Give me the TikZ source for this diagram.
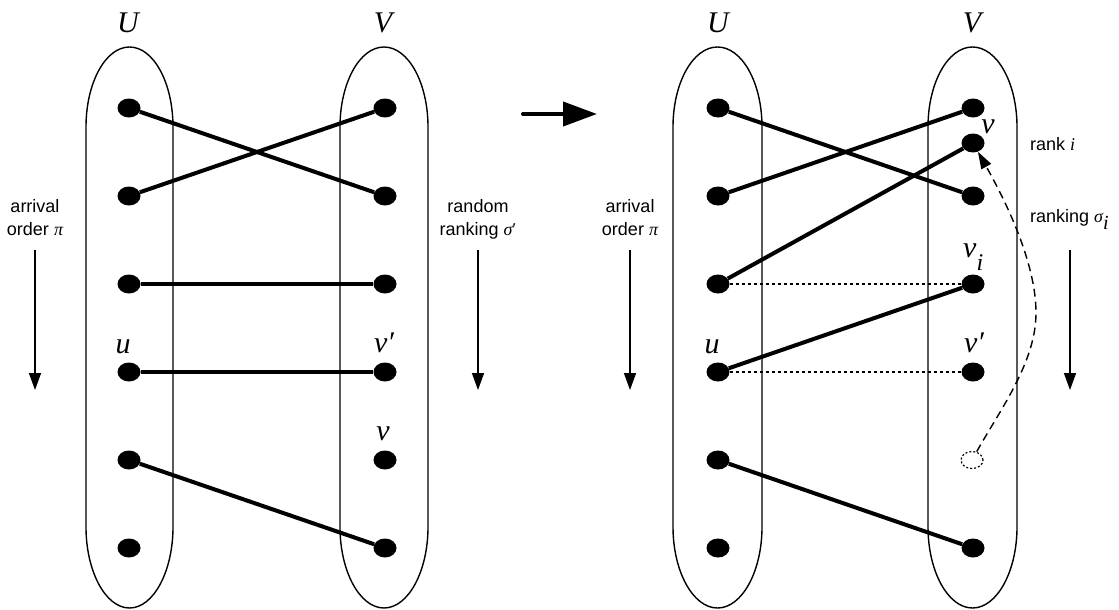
\documentclass[tikz,border=0pt]{standalone}
\usepackage{fontspec}
\setmainfont{Liberation Sans}
\newfontfamily\tms{Liberation Serif}
\usetikzlibrary{arrows.meta,shapes.geometric}
\newcommand\stadium[2]{%
  \draw[setline] (#1,127) .. controls (#1,82.8) and ({#1+0.224*(#2-#1)},47) .. ({(#1+#2)/2},47)
     .. controls ({#2-0.224*(#2-#1)},47) and (#2,82.8) .. (#2,127)
     -- (#2,527) .. controls (#2,571.2) and ({#2-0.224*(#2-#1)},608) .. ({(#1+#2)/2},608)
     .. controls ({#1+0.224*(#2-#1)},608) and (#1,571.2) .. (#1,527) -- cycle;}
\begin{document}
\begin{tikzpicture}[x=1pt,y=-1pt,
  dot/.style={ellipse,fill=black,minimum width=23pt,minimum height=19pt,inner sep=0pt},
  ghost/.style={ellipse,draw,dash pattern=on 2pt off 2pt,line width=1.2pt,minimum width=22pt,minimum height=17pt,inner sep=0pt},
  edge/.style={line width=4pt},
  dotline/.style={line width=1.5pt,dash pattern=on 3pt off 3pt},
  setline/.style={line width=1.4pt},
  down/.style={line width=1.5pt,-{Triangle[length=17pt,width=12pt]}},
  lab/.style={font=\fontsize{30}{30}\selectfont\tms\itshape,inner sep=0pt,anchor=base},
  txt/.style={font=\fontsize{18}{23}\selectfont,align=center,inner sep=0pt,anchor=north},
]
\useasboundingbox (0,0) rectangle (1119,610);
% sets
\stadium{86}{173}
\stadium{340}{428}
\stadium{673}{762}
\stadium{928}{1017}
% left dots
\node[dot] (l1) at (129,108) {};
\node[dot] (l2) at (129,196) {};
\node[dot] (l3) at (129,284) {};
\node[dot] (l4) at (129,372) {};
\node[dot] (l5) at (129,460) {};
\node[dot] (l6) at (129,548) {};
\node[dot] (r1) at (385,108) {};
\node[dot] (r2) at (385,196) {};
\node[dot] (r3) at (385,284) {};
\node[dot] (r4) at (385,372) {};
\node[dot] (r5) at (385,460) {};
\node[dot] (r6) at (385,548) {};
% right dots
\node[dot] (L1) at (718,108) {};
\node[dot] (L2) at (718,196) {};
\node[dot] (L3) at (718,284) {};
\node[dot] (L4) at (718,372) {};
\node[dot] (L5) at (718,460) {};
\node[dot] (L6) at (718,548) {};
\node[dot] (R1) at (973,108) {};
\node[dot] (Rv) at (973,143) {};
\node[dot] (R2) at (973,196) {};
\node[dot] (R3) at (973,284) {};
\node[dot] (R4) at (973,372) {};
\node[ghost] (Rg) at (972,460) {};
\node[dot] (R6) at (973,548) {};
% left edges
\draw[edge] (l1) -- (r2);
\draw[edge] (l2) -- (r1);
\draw[edge] (l3) -- (r3);
\draw[edge] (l4) -- (r4);
\draw[edge] (l5) -- (r6);
% right edges
\draw[dotline] (L3) -- (R3);
\draw[dotline] (L4) -- (R4);
\draw[edge] (L1) -- (R2);
\draw[edge] (L2) -- (R1);
\draw[edge] (L3) -- (Rv);
\draw[edge] (L4) -- (R3);
\draw[edge] (L5) -- (R6);
% dashed curve
\coordinate (cm) at (1036,313);
\draw[line width=1.4pt,dash pattern=on 8pt off 5pt,-{Triangle[length=17pt,width=11pt]}]
  (Rg) .. controls (1000,410) and (1036,362) .. (cm)
       .. controls (1036,262) and (1005,200) .. (Rv);
% labels
\node[lab] (tU1) at (128,33) {U};
\node[lab] (tV1) at (383,33) {V};
\node[lab] (tU2) at (718,33) {U};
\node[lab] (tV2) at (972,33) {V};
\node[lab] (tu1) at (123,353) {u};
\node[lab] (tvp1) at (384,352) {v′};
\node[lab] (tv1) at (383,440) {v};
\node[lab] (tu2) at (712,353) {u};
\node[lab] (tvp2) at (974,352) {v′};
\node[lab] (tv2) at (988,133) {v};
\node[lab,anchor=base west] (tvi) at (963,257) {v\raisebox{-13pt}{\fontsize{24}{24}\selectfont i}};
% side texts
\node[txt] (ao1) at (35,199) {arrival\\order {\tms\itshape π}};
\node[txt] (rr1) at (478,199) {random\\ranking {\tms\itshape σ}{\tms ′}};
\node[txt] (ao2) at (630,199) {arrival\\order {\tms\itshape π}};
\node[font=\fontsize{18}{23}\selectfont,inner sep=0pt,anchor=base west] (rk) at (1030,150) {rank {\tms\itshape i}};
\node[font=\fontsize{18}{23}\selectfont,inner sep=0pt,anchor=base west] (rks) at (1030,222) {ranking {\tms\itshape σ\raisebox{-7pt}{\fontsize{20}{20}\selectfont i}}};
% arrows
\coordinate (a1s) at (35,250); \coordinate (a1e) at (35,390);
\coordinate (a2s) at (478,250); \coordinate (a2e) at (478,390);
\coordinate (a3s) at (630,250); \coordinate (a3e) at (630,390);
\coordinate (a4s) at (1070,250); \coordinate (a4e) at (1070,390);
\draw[down] (a1s) -- (a1e);
\draw[down] (a2s) -- (a2e);
\draw[down] (a3s) -- (a3e);
\draw[down] (a4s) -- (a4e);
\coordinate (m1) at (523,114); \coordinate (m2) at (597,114);
\draw[line width=4pt,line cap=round,-{Triangle[length=34pt,width=24pt]}] (m1) -- (m2);
\end{tikzpicture}
\end{document}
